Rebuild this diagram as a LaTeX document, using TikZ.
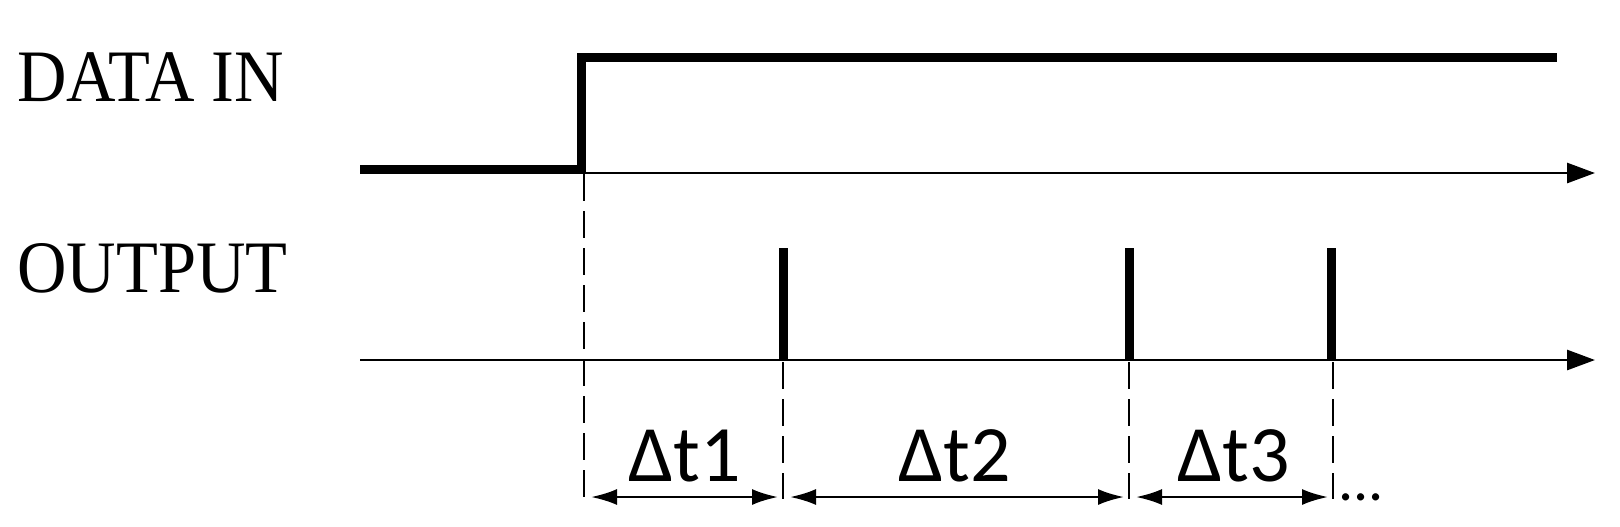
\documentclass[tikz,border=0pt]{standalone}
\usepackage{fontspec}
\setmainfont{Liberation Serif}
\newfontfamily\lblfont{Carlito}
\usetikzlibrary{arrows.meta}
\newcommand{\narrowtext}[1]{\scalebox{0.925}[1]{#1}}
\begin{document}
\begin{tikzpicture}[x=0.5pt,y=-0.5pt,
  sig/.style={line width=4.5pt,line join=miter},
  axisline/.style={line width=1.4pt,-{Triangle[length=14pt,width=10pt]}},
  guide/.style={line width=1pt,dash pattern=on 13.5pt off 5pt},
  dimline/.style={line width=1.2pt,{Latex[length=13pt,width=8pt]}-{Latex[length=13pt,width=8pt]},shorten <=3.5pt,shorten >=2.5pt},
  sigtext/.style={font=\fontsize{37}{40}\selectfont,inner sep=0pt,anchor=base west},
  dtext/.style={font=\lblfont\fontsize{40}{44}\selectfont,inner sep=0pt,anchor=base},
  dots/.style={font=\lblfont\fontsize{30}{32}\selectfont,inner sep=0pt,anchor=base west}]
\useasboundingbox (0,0) rectangle (1620,526);

% labels
\node[sigtext] (lin) at (17,101) {\narrowtext{DATA IN}};
\node[sigtext] (lout) at (17,292) {\narrowtext{OUTPUT}};

% axes
\coordinate (a1s) at (360,173);
\coordinate (a1e) at (1595,173);
\coordinate (a2s) at (360,360);
\coordinate (a2e) at (1595,360);
\draw[axisline] (a1s) -- (a1e);
\draw[axisline] (a2s) -- (a2e);

% data in signal
\coordinate (d0) at (360,169.5);
\coordinate (d1) at (581.5,169.5);
\coordinate (d2) at (581.5,57);
\coordinate (d3) at (1557,57);
\draw[sig] (d0) -- (d1) -- (d2) -- (d3);

% output pulses
\coordinate (p1b) at (783.5,360);  \coordinate (p1t) at (783.5,248);
\coordinate (p2b) at (1129.5,360); \coordinate (p2t) at (1129.5,248);
\coordinate (p3b) at (1331.5,360); \coordinate (p3t) at (1331.5,248);
\draw[sig] (p1b) -- (p1t);
\draw[sig] (p2b) -- (p2t);
\draw[sig] (p3b) -- (p3t);

% guide lines
\coordinate (g0t) at (584,174);  \coordinate (g0b) at (584,499);
\coordinate (g1t) at (783,362);  \coordinate (g1b) at (783,499);
\coordinate (g2t) at (1129,362); \coordinate (g2b) at (1129,499);
\coordinate (g3t) at (1333,362); \coordinate (g3b) at (1333,499);
\draw[guide] (g0t) -- (g0b);
\draw[guide] (g1t) -- (g1b);
\draw[guide] (g2t) -- (g2b);
\draw[guide] (g3t) -- (g3b);

% dimension arrows
\coordinate (m0) at (584,497);
\coordinate (m1) at (783,497);
\coordinate (m2) at (1129,497);
\coordinate (m3) at (1333,497);
\draw[dimline] (m0) -- (m1);
\draw[dimline] (m1) -- (m2);
\draw[dimline] (m2) -- (m3);

\node[dtext] (t1) at (685,481) {Δt1};
\node[dtext] (t2) at (955,481) {Δt2};
\node[dtext] (t3) at (1234,481) {Δt3};
\node[dots] (more) at (1338,500) {...};
\end{tikzpicture}
\end{document}
